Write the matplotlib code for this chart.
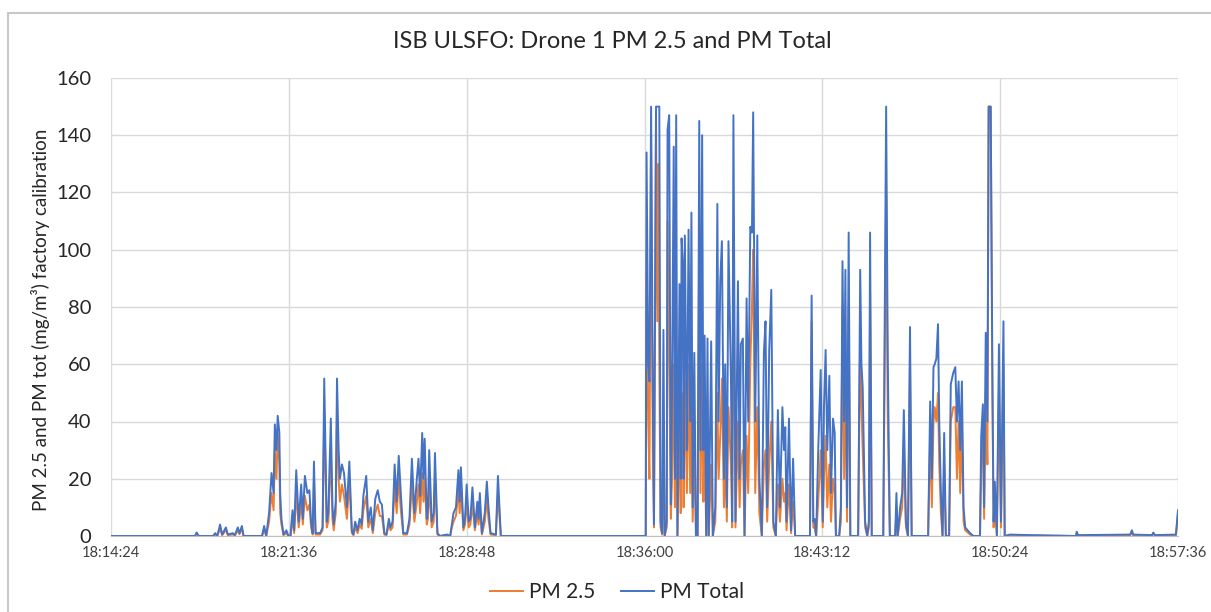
import matplotlib
matplotlib.use("Agg")
import matplotlib.pyplot as plt
from matplotlib.patches import Rectangle

plt.rcParams["font.family"] = ["Lato", "DejaVu Sans"]

# seconds after 18:14:24
t_sec = [
    0, 204, 208, 213, 248, 253, 258, 265, 270, 279, 284, 296, 301, 308, 312, 318, 322, 367, 372, 377,
    384, 390, 395, 398, 402, 405, 409, 411, 414, 419, 426, 431, 436, 441, 445, 450, 456, 462, 466, 471,
    477, 482, 486, 490, 493, 497, 508, 514, 518, 524, 528, 534, 538, 541, 546, 549, 553, 556, 561, 566,
    573, 579, 585, 589, 593, 599, 604, 609, 613, 620, 625, 631, 636, 642, 648, 653, 658, 664, 669, 675,
    679, 684, 689, 694, 699, 704, 710, 719, 725, 731, 737, 743, 747, 751, 756, 759, 762, 767, 770, 773,
    779, 784, 787, 793, 799, 816, 824, 828, 832, 838, 844, 847, 850, 856, 860, 864, 869, 873, 878, 884,
    890, 893, 896, 901, 908, 913, 917, 922, 935, 940, 947, 1290, 1299, 1301, 1305, 1308, 1312, 1316, 1319, 1324,
    1327, 1330, 1332, 1335, 1339, 1342, 1345, 1350, 1352, 1356, 1360, 1363, 1367, 1370, 1373, 1376, 1381, 1384, 1386, 1389,
    1391, 1394, 1399, 1403, 1407, 1410, 1413, 1417, 1421, 1425, 1429, 1432, 1436, 1439, 1442, 1446, 1449, 1452, 1458, 1462,
    1468, 1473, 1476, 1480, 1484, 1489, 1492, 1496, 1500, 1506, 1509, 1512, 1517, 1523, 1527, 1530, 1535, 1539, 1544, 1548,
    1553, 1557, 1560, 1565, 1570, 1575, 1581, 1586, 1590, 1594, 1599, 1604, 1609, 1615, 1620, 1625, 1631, 1635, 1638, 1641,
    1647, 1652, 1657, 1662, 1698, 1702, 1706, 1709, 1713, 1718, 1724, 1729, 1732, 1736, 1740, 1745, 1749, 1754, 1758, 1761,
    1769, 1773, 1777, 1781, 1784, 1788, 1792, 1796, 1815, 1820, 1823, 1826, 1832, 1837, 1841, 1844, 1848, 1876, 1883, 1887,
    1892, 1905, 1908, 1911, 1917, 1922, 1926, 1931, 1936, 1941, 1945, 1985, 1990, 1994, 1998, 2001, 2005, 2009, 2012, 2016,
    2020, 2024, 2028, 2036, 2040, 2046, 2051, 2055, 2059, 2063, 2067, 2071, 2075, 2087, 2095, 2111, 2114, 2118, 2121, 2125,
    2129, 2132, 2137, 2141, 2144, 2147, 2152, 2157, 2162, 2168, 2171, 2184, 2233, 2344, 2346, 2349, 2476, 2480, 2483, 2529,
    2532, 2536, 2587, 2592,
]

pm_total = [
    0, 0, 1.2, 0, 0, 1, 0, 4, 0.5, 3, 0.5, 1, 0.3, 3, 1, 3.5, 0, 0, 3.5, 0,
    8, 22, 15, 39, 30, 42, 36, 15, 6, 0.5, 2, 0, 0, 9, 2, 23, 5, 18, 6, 21,
    15, 16, 5, 1, 26, 1, 1, 3, 55, 5, 8, 41, 10, 4, 12, 55, 30, 20, 25, 22,
    10, 26, 2, 0.5, 5, 2, 6, 4, 14, 21, 5, 10, 2, 13, 16, 12, 11, 1, 0.5, 6,
    3, 5, 25, 12, 28, 15, 1, 1, 6, 27, 8, 20, 27, 14, 36, 20, 34, 6, 10, 30,
    5, 8, 29, 1, 0, 0.5, 0, 4, 8, 10, 23, 12, 24, 3, 6, 18, 5, 6, 17, 3,
    12, 6, 15, 1, 8, 19, 10, 1, 0.5, 21, 0, 0, 0, 134, 60, 54, 150, 53, 4, 150,
    150, 150, 150, 5, 1, 72, 0, 5, 142, 147, 11, 51, 136, 20, 147, 0, 88, 20, 104, 96,
    20, 105, 30, 107, 40, 113, 10, 64, 0, 0, 145, 30, 140, 30, 70, 0, 69, 0, 68, 0,
    10, 116, 40, 89, 103, 20, 60, 10, 103, 55, 5, 147, 5, 89, 20, 67, 69, 0, 83, 40,
    108, 106, 148, 40, 105, 20, 0, 64, 75, 10, 65, 86, 5, 0, 44, 10, 45, 30, 38, 5,
    41, 2, 27, 0, 0, 84, 5, 6, 0, 30, 58, 5, 45, 65, 30, 56, 15, 41, 36, 0,
    0, 10, 96, 40, 93, 10, 106, 0, 0, 93, 60, 52, 5, 0, 5, 106, 0, 0, 150, 61,
    0, 0, 15, 0, 10, 15, 44, 5, 0, 73, 0, 0, 47, 20, 59, 60, 62, 74, 40, 15,
    0, 36, 0, 0, 53, 57, 59, 40, 54, 30, 54, 10, 3, 1, 0, 0, 35, 46, 10, 71,
    40, 150, 150, 60, 5, 19, 0, 67, 5, 75, 0, 0.5, 0.3, 0, 1.5, 0.3, 0.5, 2, 0.5, 0.3,
    1.2, 0.3, 0.5, 9,
]

pm25 = [
    0, 0, 0.8, 0, 0, 0.6, 0, 2.5, 0.3, 2, 0.3, 0.5, 0.2, 2, 0.6, 2.5, 0, 0, 2.5, 0,
    5, 15, 9, 30, 20, 36, 25, 8, 4, 0.3, 1, 0, 0, 6, 1, 15, 3, 12, 4, 14,
    9, 11, 3, 0.5, 19, 0.5, 0.5, 2, 42, 3, 5, 30, 6, 2, 8, 44, 20, 12, 18, 14,
    6, 19, 1, 0.3, 3, 1, 4, 2.5, 9, 14, 3, 6, 1, 8, 11, 7, 7, 0.5, 0.3, 4,
    2, 3, 17, 8, 20, 9, 0.5, 0.5, 4, 18, 5, 12, 18, 8, 22, 12, 20, 4, 6, 18,
    3, 5, 20, 0.5, 0, 0.3, 0, 3, 5, 7, 16, 8, 17, 2, 4, 12, 3, 4, 11, 2,
    8, 4, 10, 0.5, 5, 13, 6, 0.5, 0.3, 15, 0, 0, 0, 100, 40, 20, 140, 30, 3, 148,
    75, 130, 60, 3, 0.5, 40, 0, 3, 110, 60, 6, 20, 60, 10, 80, 0, 40, 8, 50, 40,
    10, 55, 15, 60, 15, 45, 5, 30, 0, 0, 105, 15, 60, 12, 35, 0, 30, 0, 25, 0,
    5, 50, 20, 35, 55, 10, 30, 5, 45, 25, 3, 105, 3, 40, 10, 25, 30, 0, 35, 15,
    60, 80, 100, 15, 45, 8, 0, 25, 30, 5, 25, 40, 3, 0, 18, 5, 20, 12, 15, 2,
    18, 1, 12, 0, 0, 75, 3, 3, 0, 12, 30, 3, 20, 35, 10, 25, 5, 20, 15, 0,
    0, 5, 80, 20, 60, 5, 80, 0, 0, 70, 45, 30, 3, 0, 3, 85, 0, 0, 120, 40,
    0, 0, 10, 0, 6, 10, 30, 3, 0, 60, 0, 0, 35, 10, 40, 45, 40, 50, 25, 8,
    0, 25, 0, 0, 40, 45, 45, 20, 40, 15, 40, 5, 2, 0.5, 0, 0, 25, 35, 6, 50,
    25, 150, 150, 50, 3, 12, 0, 50, 3, 60, 0, 0.3, 0.2, 0, 1, 0.2, 0.3, 1.5, 0.3, 0.2,
    0.8, 0.2, 0.3, 8,
]

tick_labels = ["18:14:24", "18:21:36", "18:28:48", "18:36:00", "18:43:12", "18:50:24", "18:57:36"]
tick_step = 432  # 7 min 12 s

assert len(t_sec) == len(pm_total) == len(pm25)

fig = plt.figure(figsize=(12.11, 6.12), dpi=100)
fig.patches.append(Rectangle((8 / 1211, -0.1), 1.2, (612 - 13) / 612 + 0.1,
                             transform=fig.transFigure, fill=False,
                             edgecolor="#c8c8c8", linewidth=1.5))

ax = fig.add_axes([111 / 1211, 1 - 536 / 612, (1178 - 111) / 1211, (536 - 78) / 612])

ax.plot(t_sec, pm25, color="#ED7D31", linewidth=1.4, label="PM 2.5")
ax.plot(t_sec, pm_total, color="#4472C4", linewidth=1.4, label="PM Total")

ax.set_xlim(0, tick_step * (len(tick_labels) - 1))
ax.set_ylim(0, 160)
ax.set_xticks([i * tick_step for i in range(len(tick_labels))])
ax.set_xticklabels(tick_labels, fontsize=10.5, color="#404040")
ax.set_yticks(range(0, 161, 20))
ax.tick_params(axis="y", labelsize=14.5, length=0, pad=14, labelcolor="#262626")
ax.tick_params(axis="x", length=0, pad=7)

ax.grid(True, color="#d9d9d9", linewidth=1)
ax.set_axisbelow(True)
for s in ["top", "right", "left"]:
    ax.spines[s].set_visible(False)
ax.spines["bottom"].set_color("#bfbfbf")

ax.set_ylabel("PM 2.5 and PM tot (mg/m³) factory calibration", fontsize=13.5,
              color="#262626")
ax.yaxis.set_label_coords(-0.057, 0.472)

fig.text(612 / 1211, 1 - 42 / 612, "ISB ULSFO: Drone 1 PM 2.5 and PM Total",
         fontsize=17, color="#262626", ha="center", va="center")

fig.legend(loc="center", bbox_to_anchor=(617 / 1211, 1 - 592 / 612), ncol=2,
           frameon=False, fontsize=15, handlelength=1.6, columnspacing=1.2,
           handletextpad=0.3, labelcolor="#262626")

fig.savefig("out.png", dpi=100)
